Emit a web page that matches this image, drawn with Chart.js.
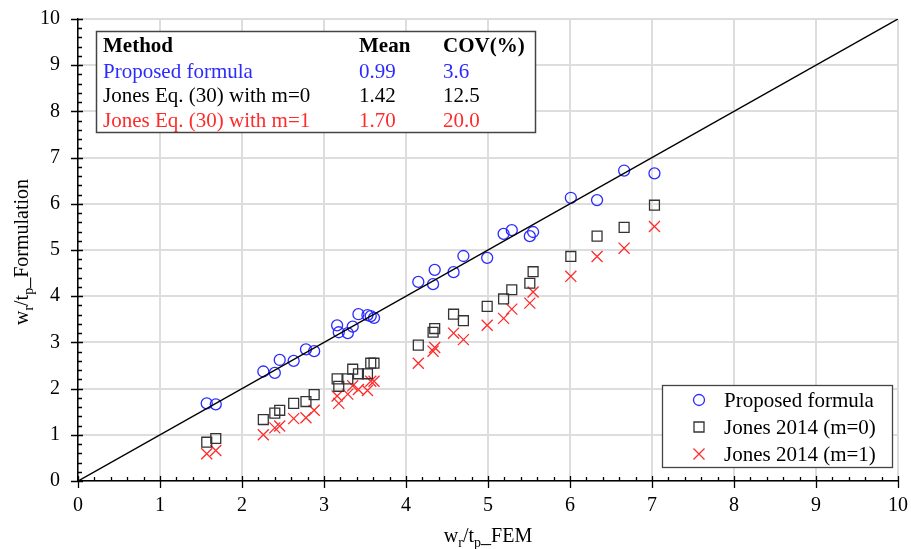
<!DOCTYPE html>
<html>
<head>
<meta charset="utf-8">
<script src="https://cdn.jsdelivr.net/npm/chart.js@4/dist/chart.umd.min.js"></script>
<style>
  body { margin: 0; background: #fff; }
  #wrap { width: 911px; height: 549px; }
</style>
</head>
<body>
<div id="wrap"><canvas id="myChart" width="911" height="549"></canvas></div>
<script>
// x values (FEM) shared by the three series
const femValues = [1.57, 1.68, 2.26, 2.40, 2.46, 2.63, 2.78, 2.88, 3.16, 3.18, 3.29, 3.35, 3.42, 3.53, 3.57, 3.61,
  4.15, 4.33, 4.35, 4.58, 4.70, 4.99, 5.19, 5.29, 5.51, 5.55, 6.01, 6.33, 6.66, 7.03];
const proposedValues = [1.68, 1.66, 2.37, 2.34, 2.62, 2.60, 2.85, 2.81, 3.37, 3.22, 3.20, 3.34, 3.61, 3.59, 3.57, 3.53,
  4.31, 4.26, 4.57, 4.52, 4.87, 4.83, 5.35, 5.43, 5.30, 5.39, 6.13, 6.08, 6.72, 6.66];
const jonesM0Values = [0.84, 0.92, 1.33, 1.47, 1.53, 1.68, 1.72, 1.87, 2.21, 2.05, 2.21, 2.42, 2.32, 2.32, 2.55, 2.55,
  2.94, 3.22, 3.30, 3.61, 3.47, 3.78, 3.94, 4.14, 4.28, 4.53, 4.86, 5.30, 5.49, 5.97];
const jonesM1Values = [0.59, 0.66, 1.00, 1.15, 1.19, 1.35, 1.37, 1.53, 1.84, 1.68, 1.88, 2.06, 1.98, 1.96, 2.16, 2.16,
  2.55, 2.81, 2.89, 3.20, 3.06, 3.37, 3.52, 3.72, 3.85, 4.09, 4.43, 4.86, 5.04, 5.51];
const equalityLine = [0, 10];

const seriesLabels = ['Proposed formula', 'Jones 2014 (m=0)', 'Jones 2014 (m=1)'];

// statistics table
const tableHeader = ['Method', 'Mean', 'COV(%)'];
const tableMethods = ['Proposed formula', 'Jones Eq. (30) with m=0', 'Jones Eq. (30) with m=1'];
const tableMeans = ['0.99', '1.42', '1.70'];
const tableCovs = ['3.6', '12.5', '20.0'];

const BLUE = '#2b2bff';
const GREY = '#333333';
const RED = '#ff2b2b';
const rowColors = [BLUE, '#000000', RED];
const FONT = '"Liberation Serif", "Times New Roman", serif';

const toPoints = (ys) => femValues.map((x, i) => ({ x: x, y: ys[i] }));

function drawMarker(ctx, style, x, y, color) {
  ctx.save();
  ctx.strokeStyle = color;
  ctx.lineWidth = 1.3;
  ctx.beginPath();
  if (style === 'circle') {
    ctx.arc(x, y, 5.5, 0, Math.PI * 2);
  } else if (style === 'rect') {
    ctx.rect(x - 5, y - 5, 10, 10);
  } else {
    ctx.moveTo(x - 5.5, y - 5.5); ctx.lineTo(x + 5.5, y + 5.5);
    ctx.moveTo(x + 5.5, y - 5.5); ctx.lineTo(x - 5.5, y + 5.5);
  }
  ctx.stroke();
  ctx.restore();
}

// text with subscripts: parts = [[text, isSub], ...]
function drawSubText(ctx, parts, cx, cy) {
  const big = '20px ' + FONT, small = '14px ' + FONT;
  let total = 0;
  parts.forEach(p => { ctx.font = p[1] ? small : big; total += ctx.measureText(p[0]).width; });
  let x = cx - total / 2;
  ctx.textBaseline = 'alphabetic';
  ctx.textAlign = 'left';
  ctx.fillStyle = '#000';
  parts.forEach(p => {
    ctx.font = p[1] ? small : big;
    ctx.fillText(p[0], x, p[1] ? cy + 5 : cy);
    x += ctx.measureText(p[0]).width;
  });
}

const decorPlugin = {
  id: 'decor',
  afterDraw(chart) {
    const ctx = chart.ctx;
    const xs = chart.scales.x, ys = chart.scales.y;
    const area = chart.chartArea;

    // minor and major ticks
    ctx.save();
    ctx.strokeStyle = '#000';
    ctx.lineWidth = 1.3;
    ctx.beginPath();
    for (let i = 0; i <= 50; i++) {
      const v = i / 5;
      const major = i % 5 === 0;
      const px = Math.round(xs.getPixelForValue(v)) + 0.5;
      ctx.moveTo(px, area.bottom - (major ? 5 : 4));
      ctx.lineTo(px, area.bottom + (major ? 7 : 0));
      const py = Math.round(ys.getPixelForValue(v)) + 0.5;
      ctx.moveTo(area.left - (major ? 7 : 0), py);
      ctx.lineTo(area.left + (major ? 5 : 4), py);
    }
    ctx.stroke();
    ctx.restore();

    // axis titles
    ctx.save();
    drawSubText(ctx, [['w', false], ['r', true], ['/t', false], ['p', true], ['_FEM', false]], 488, 542);
    ctx.translate(28, 252);
    ctx.rotate(-Math.PI / 2);
    drawSubText(ctx, [['w', false], ['r', true], ['/t', false], ['p', true], ['_Formulation', false]], 0, 0);
    ctx.restore();

    // statistics table
    ctx.save();
    ctx.fillStyle = '#fff';
    ctx.fillRect(96, 31, 440, 102);
    ctx.strokeStyle = '#444';
    ctx.lineWidth = 1.5;
    ctx.strokeRect(96.5, 31.5, 439, 101);
    ctx.textBaseline = 'middle';
    ctx.textAlign = 'left';
    ctx.font = 'bold 21px ' + FONT;
    ctx.fillStyle = '#000';
    const cols = [103, 359, 443];
    tableHeader.forEach((t, i) => ctx.fillText(t, cols[i], 47));
    ctx.font = '21px ' + FONT;
    tableMethods.forEach((m, r) => {
      const y = 72 + r * 24.5;
      ctx.fillStyle = rowColors[r];
      ctx.fillText(m, cols[0], y);
      ctx.fillText(tableMeans[r], cols[1], y);
      ctx.fillText(tableCovs[r], cols[2], y);
    });
    ctx.restore();

    // legend
    ctx.save();
    ctx.fillStyle = '#fff';
    ctx.fillRect(662, 385, 231, 83);
    ctx.strokeStyle = '#444';
    ctx.lineWidth = 1.3;
    ctx.strokeRect(662.5, 385.5, 230, 82);
    const styles = ['circle', 'rect', 'cross'];
    const colors = [BLUE, GREY, RED];
    ctx.font = '21px ' + FONT;
    ctx.textBaseline = 'middle';
    seriesLabels.forEach((lab, i) => {
      const y = 400 + i * 27;
      drawMarker(ctx, styles[i], 699, y, colors[i]);
      ctx.fillStyle = '#000';
      ctx.fillText(lab, 724, y + 1);
    });
    ctx.restore();
  }
};

new Chart(document.getElementById('myChart'), {
  type: 'scatter',
  data: {
    datasets: [
      {
        label: 'y = x',
        data: equalityLine.map(v => ({ x: v, y: v })),
        showLine: true,
        borderColor: '#000',
        borderWidth: 1.5,
        pointRadius: 0,
      },
      {
        label: seriesLabels[0],
        data: toPoints(proposedValues),
        pointStyle: 'circle',
        pointRadius: 5.5,
        borderColor: BLUE,
        backgroundColor: 'rgba(0,0,0,0)',
        borderWidth: 1.3,
      },
      {
        label: seriesLabels[1],
        data: toPoints(jonesM0Values),
        pointStyle: 'rect',
        pointRadius: 7,
        borderColor: GREY,
        backgroundColor: 'rgba(0,0,0,0)',
        borderWidth: 1.3,
      },
      {
        label: seriesLabels[2],
        data: toPoints(jonesM1Values),
        pointStyle: 'crossRot',
        pointRadius: 7.8,
        borderColor: RED,
        backgroundColor: 'rgba(0,0,0,0)',
        borderWidth: 1.3,
      },
    ],
  },
  options: {
    responsive: false,
    animation: false,
    layout: { padding: { left: 0, right: 13, top: 19, bottom: 0 } },
    plugins: { legend: { display: false }, tooltip: { enabled: false } },
    scales: {
      x: {
        type: 'linear',
        min: 0,
        max: 10,
        afterFit: (s) => { s.height = 68; s.paddingLeft = 0; s.paddingRight = 0; },
        ticks: { stepSize: 1, padding: 13, color: '#000', font: { family: FONT, size: 20 } },
        grid: { color: '#dddddd', lineWidth: 2, drawTicks: false },
        border: { color: '#000', width: 1.5 },
      },
      y: {
        type: 'linear',
        min: 0,
        max: 10,
        afterFit: (s) => { s.width = 78; s.paddingTop = 0; s.paddingBottom = 0; },
        ticks: { stepSize: 1, padding: 18, color: '#000', font: { family: FONT, size: 20 } },
        grid: { color: '#dddddd', lineWidth: 2, drawTicks: false },
        border: { color: '#000', width: 1.5 },
      },
    },
  },
  plugins: [decorPlugin],
});
</script>
</body>
</html>
